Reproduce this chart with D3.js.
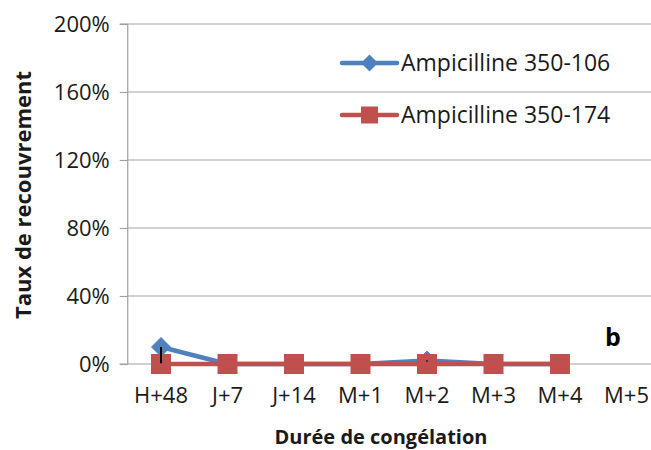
<!DOCTYPE html>
<html>
<head>
<meta charset="utf-8">
<script src="https://cdn.jsdelivr.net/npm/d3@7"></script>
<style>
  html, body { margin: 0; padding: 0; background: #fff; }
  svg { display: block; font-family: "Open Sans", sans-serif; }
</style>
</head>
<body>
<svg id="chart" width="651" height="450"></svg>
<script>
const categories = ["H+48", "J+7", "J+14", "M+1", "M+2", "M+3", "M+4", "M+5"];
const yTicks = [0, 40, 80, 120, 160, 200];
const seriesNames = ["Ampicilline 350-106", "Ampicilline 350-174"];
const values106 = [10, 0, 0, 0, 2, 0, 0, null];
const errors106 = [9.5, 0, 0, 0, 0.6, 0, 0, null];
const values174 = [0, 0, 0, 0, 0, 0, 0, null];
const colors = ["#4F81BD", "#C0504D"];

const svg = d3.select("#chart");
const plotLeft = 127.75, plotBottom = 364, plotTop = 24, band = 66.5;

const x = d3.scaleBand().domain(categories).range([plotLeft, plotLeft + band * categories.length]).padding(0);
const y = d3.scaleLinear().domain([0, 200]).range([plotBottom, plotTop]);
const cx = c => x(c) + x.bandwidth() / 2;

// gridlines
svg.append("g").selectAll("line").data(yTicks.filter(t => t > 0)).join("line")
  .attr("x1", plotLeft).attr("x2", 651)
  .attr("y1", d => y(d)).attr("y2", d => y(d))
  .attr("stroke", "#a6a6a6").attr("stroke-width", 1.2);

// y axis
const yAxis = d3.axisLeft(y).tickValues(yTicks).tickSize(8).tickPadding(10).tickFormat(d => d + "%");
const gy = svg.append("g").attr("transform", `translate(${plotLeft},0)`).call(yAxis);
gy.select(".domain").attr("stroke", "#a0a0a0").attr("stroke-width", 1.2).attr("d", `M-8,${plotTop}H0V${plotBottom}`);
gy.selectAll(".tick line").attr("stroke", "#a0a0a0").attr("stroke-width", 1.2);
gy.selectAll(".tick text").attr("font-size", 22).attr("fill", "#1a1a1a").attr("font-family", "Open Sans");

// x axis
const xAxis = d3.axisBottom(x).tickSize(0).tickPadding(23);
const gx = svg.append("g").attr("transform", `translate(0,${plotBottom})`).call(xAxis);
gx.select(".domain").attr("stroke", "#a0a0a0").attr("stroke-width", 1.2).attr("d", `M${plotLeft - 8},0H651`);
gx.selectAll(".tick text").attr("font-size", 22).attr("fill", "#1a1a1a").attr("font-family", "Open Sans");

// lines
const line = d3.line().defined(d => d.v != null).x(d => cx(d.c)).y(d => y(d.v));
const d106 = categories.map((c, i) => ({ c, v: values106[i], e: errors106[i] }));
const d174 = categories.map((c, i) => ({ c, v: values174[i] }));

svg.append("path").datum(d106).attr("d", line).attr("fill", "none")
  .attr("stroke", colors[0]).attr("stroke-width", 4.5).attr("stroke-linejoin", "round").attr("stroke-linecap", "round");
const diamond = s => `M0,${-s}L${s},0L0,${s}L${-s},0Z`;
svg.append("g").selectAll("path").data(d106.filter(d => d.v != null)).join("path")
  .attr("transform", d => `translate(${cx(d.c)},${y(d.v)})`)
  .attr("d", diamond(9.5)).attr("fill", colors[0]).attr("stroke", colors[0]).attr("stroke-width", 1);

svg.append("path").datum(d174).attr("d", line).attr("fill", "none")
  .attr("stroke", colors[1]).attr("stroke-width", 4.5).attr("stroke-linecap", "round");
svg.append("g").selectAll("rect").data(d174.filter(d => d.v != null)).join("rect")
  .attr("x", d => cx(d.c) - 10).attr("y", d => y(d.v) - 10)
  .attr("width", 20).attr("height", 20).attr("fill", colors[1]);

// error bars (minus direction)
svg.append("g").selectAll("line").data(d106.filter(d => d.v != null && d.e > 0)).join("line")
  .attr("x1", d => cx(d.c)).attr("x2", d => cx(d.c))
  .attr("y1", d => y(d.v)).attr("y2", d => y(d.v - d.e))
  .attr("stroke", "#000").attr("stroke-width", 2);

// legend
const legend = svg.append("g");
const legY = [63, 115];
seriesNames.forEach((name, i) => {
  const g = legend.append("g").attr("transform", `translate(0,${legY[i]})`);
  g.append("line").attr("x1", 342).attr("x2", 397).attr("y1", 0).attr("y2", 0)
    .attr("stroke", colors[i]).attr("stroke-width", 4.5).attr("stroke-linecap", "round");
  if (i === 0) {
    g.append("path").attr("transform", "translate(369.5,0)").attr("d", diamond(8.5)).attr("fill", colors[0]);
  } else {
    g.append("rect").attr("x", 361).attr("y", -8.5).attr("width", 17).attr("height", 17).attr("fill", colors[1]);
  }
  g.append("text").attr("x", 401).attr("y", 0).attr("dy", "0.35em")
    .attr("font-size", 23).attr("fill", "#1a1a1a").text(name);
});

// axis titles
svg.append("text").attr("transform", `translate(23,195) rotate(-90)`)
  .attr("text-anchor", "middle").attr("dy", "0.35em")
  .attr("font-size", 22).attr("font-weight", "bold").attr("fill", "#1a1a1a")
  .text("Taux de recouvrement");
svg.append("text").attr("x", 381).attr("y", 437).attr("dy", "0.35em")
  .attr("text-anchor", "middle")
  .attr("font-size", 20).attr("font-weight", "bold").attr("fill", "#1a1a1a")
  .text("Durée de congélation");

// panel label
svg.append("text").attr("x", 613).attr("y", 337).attr("dy", "0.35em")
  .attr("text-anchor", "middle")
  .attr("font-size", 25).attr("font-weight", "bold").attr("fill", "#000")
  .text("b");
</script>
</body>
</html>
